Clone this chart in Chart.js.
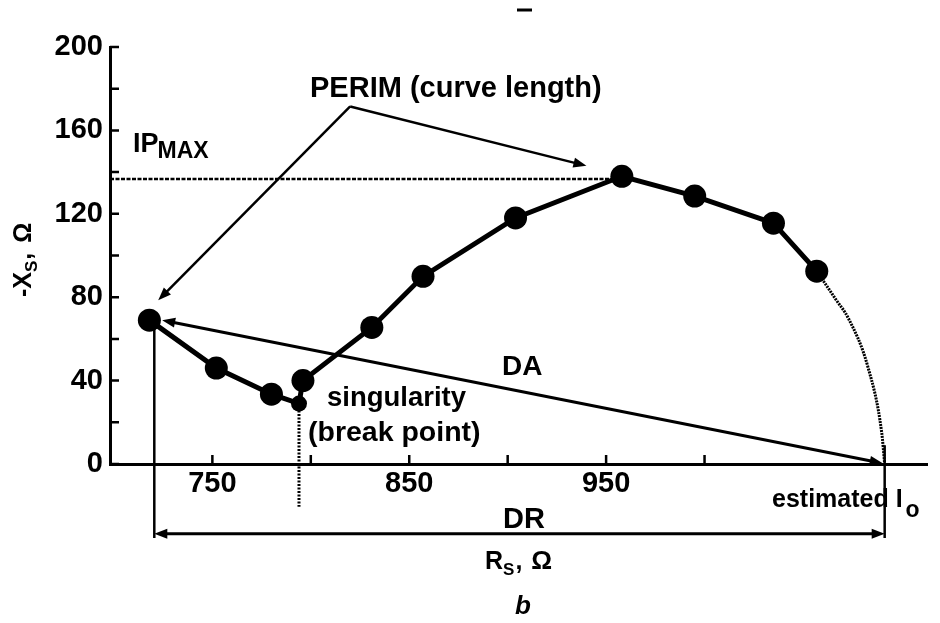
<!DOCTYPE html>
<html>
<head>
<meta charset="UTF-8">
<title>Rs / -Xs curve - break point</title>
<script src="https://cdn.jsdelivr.net/npm/chart.js@4.4.0/dist/chart.umd.min.js"></script>
<style>
  html, body { margin: 0; padding: 0; background: #fff; }
  #holder { width: 940px; height: 623px; }
</style>
</head>
<body>
<div id="holder"><canvas id="plot" width="940" height="623"></canvas></div>
<script>
// values (Rs in ohm, -Xs in ohm)
var rs = [718, 752, 780, 794, 796, 831, 857, 904, 958, 995, 1035, 1057];
var xs = [69, 46, 33.5, 29, 40, 65.5, 90, 118, 138, 128.5, 115.5, 92.5];
// dotted extrapolation down to the estimated Io
var arcRs = [1057, 1067, 1073, 1083, 1090, 1091.5];
var arcXs = [92.5, 78.5, 70, 46.5, 15, 0];
var ipMax = 136.7;
var breakRs = 794;
var breakXs = 29;
var estIo = 1091.5;
var xTicks = [750, 800, 850, 900, 950, 1000];
var xLabels = [750, 850, 950];
var yLabels = [0, 40, 80, 120, 160, 200];

var FONT = "'Liberation Sans', Arial, Helvetica, sans-serif";

function pts(a, b) {
    return a.map(function (v, i) { return { x: v, y: b[i] }; });
}

function P(chart, x, y) {
    return [chart.scales.x.getPixelForValue(x), chart.scales.y.getPixelForValue(y)];
}

function head(ctx, x0, y0, x1, y1, len, half) {
    var a = Math.atan2(y1 - y0, x1 - x0);
    var c = Math.cos(a), s = Math.sin(a);
    ctx.beginPath();
    ctx.moveTo(x1, y1);
    ctx.lineTo(x1 - len * c + half * s, y1 - len * s - half * c);
    ctx.lineTo(x1 - len * c - half * s, y1 - len * s + half * c);
    ctx.closePath();
    ctx.fill();
}

// line between two data points, arrow heads where asked
function arrow(chart, a, b, w, headA, headB) {
    var ctx = chart.ctx;
    var p = P(chart, a[0], a[1]), q = P(chart, b[0], b[1]);
    var ang = Math.atan2(q[1] - p[1], q[0] - p[0]);
    var sx = p[0], sy = p[1], ex = q[0], ey = q[1];
    if (headA) { sx += 8 * Math.cos(ang); sy += 8 * Math.sin(ang); }
    if (headB) { ex -= 8 * Math.cos(ang); ey -= 8 * Math.sin(ang); }
    ctx.lineWidth = w;
    ctx.beginPath();
    ctx.moveTo(sx, sy);
    ctx.lineTo(ex, ey);
    ctx.stroke();
    if (headA) head(ctx, q[0], q[1], p[0], p[1], 13, 5);
    if (headB) head(ctx, p[0], p[1], q[0], q[1], 13, 5);
}

function runs(ctx, x, y, parts) {
    parts.forEach(function (r) {
        x += (r.gap || 0);
        ctx.font = r.f;
        ctx.fillText(r.t, x, y + (r.dy || 0));
        x += ctx.measureText(r.t).width;
    });
}

function bold(n) { return 'bold ' + n + 'px ' + FONT; }

var extras = {
    id: 'extras',
    afterDraw: function (chart) {
        var ctx = chart.ctx, a = chart.chartArea;
        var sx = chart.scales.x, sy = chart.scales.y;
        ctx.save();
        ctx.strokeStyle = '#000';
        ctx.fillStyle = '#000';
        ctx.lineCap = 'butt';

        // inward tick marks
        ctx.lineWidth = 2.5;
        ctx.beginPath();
        sx.ticks.forEach(function (t) {
            var p = sx.getPixelForValue(t.value);
            ctx.moveTo(p, a.bottom); ctx.lineTo(p, a.bottom - 9);
        });
        sy.ticks.forEach(function (t) {
            var p = sy.getPixelForValue(t.value);
            ctx.moveTo(a.left, p); ctx.lineTo(a.left + 9, p);
        });
        ctx.stroke();

        // PERIM arrows
        arrow(chart, [820, 171.5], [722.5, 78.5], 2.5, false, true);
        arrow(chart, [820, 171.5], [940, 143], 2.5, false, true);
        // DA
        arrow(chart, [724.5, 69], [1090.5, 0.3], 3, true, true);
        // DR
        arrow(chart, [720.5, -33.5], [estIo, -33.5], 3, true, true);
        // verticals bounding DR
        ctx.lineWidth = 2.5;
        var v1 = P(chart, 720.5, 69), v2 = P(chart, 720.5, -35.5);
        ctx.beginPath(); ctx.moveTo(v1[0], v1[1]); ctx.lineTo(v2[0], v2[1]); ctx.stroke();
        var w1 = P(chart, estIo, 9), w2 = P(chart, estIo, -35.5);
        ctx.beginPath(); ctx.moveTo(w1[0], w1[1]); ctx.lineTo(w2[0], w2[1]); ctx.stroke();

        // stray mark at the top of the scan
        ctx.lineWidth = 3;
        ctx.beginPath(); ctx.moveTo(517, 10); ctx.lineTo(532, 10); ctx.stroke();

        // labels
        ctx.textAlign = 'left';
        ctx.textBaseline = 'alphabetic';
        ctx.font = bold(29);
        ctx.fillText('PERIM (curve length)', 310, 97);
        runs(ctx, 133, 152, [{ t: 'IP', f: bold(27) }, { t: 'MAX', f: bold(23), dy: 6, gap: -1 }]);
        ctx.font = bold(28);
        ctx.fillText('DA', 502, 375);
        ctx.font = bold(27.5);
        ctx.fillText('singularity', 327, 406);
        ctx.font = bold(28.5);
        ctx.fillText('(break point)', 308, 441);
        ctx.font = bold(29);
        ctx.fillText('DR', 503, 528);
        runs(ctx, 772, 507, [{ t: 'estimated I', f: bold(25) }, { t: 'o', f: bold(23), dy: 10, gap: 3 }]);

        // x axis title
        runs(ctx, 485, 569, [
            { t: 'R', f: bold(25) },
            { t: 'S', f: bold(17), dy: 6 },
            { t: ',', f: bold(25), gap: 1 },
            { t: '\u03A9', f: bold(26), gap: 9 }
        ]);
        ctx.font = 'italic bold 26px ' + FONT;
        ctx.fillText('b', 515, 614);

        // y axis title, rotated
        ctx.save();
        ctx.translate(31, 297);
        ctx.rotate(-Math.PI / 2);
        runs(ctx, 0, 0, [
            { t: '-X', f: bold(25) },
            { t: 'S', f: bold(17), dy: 6 },
            { t: ',', f: bold(25), gap: 1 },
            { t: '\u03A9', f: bold(25), gap: 10 }
        ]);
        ctx.restore();

        ctx.restore();
    }
};

var config = {
    type: 'scatter',
    data: {
        datasets: [
            {
                // IPmax level
                data: [{ x: 698, y: ipMax }, { x: 955, y: ipMax }],
                showLine: true,
                borderColor: '#000',
                borderWidth: 2.5,
                borderDash: [4, 1.5],
                pointRadius: 0
            },
            {
                // break point drop line
                data: [{ x: breakRs, y: breakXs }, { x: breakRs, y: -20.5 }],
                showLine: true,
                borderColor: '#000',
                borderWidth: 3,
                borderDash: [2, 1.5],
                pointRadius: 0,
                clip: false
            },
            {
                data: pts(arcRs, arcXs),
                showLine: true,
                borderColor: '#000',
                borderWidth: 3,
                borderDash: [2, 1],
                cubicInterpolationMode: 'monotone',
                pointRadius: 0
            },
            {
                data: pts(rs, xs),
                showLine: true,
                borderColor: '#000',
                borderWidth: 5,
                backgroundColor: '#000',
                pointBackgroundColor: '#000',
                pointBorderWidth: 0,
                pointRadius: rs.map(function (v, i) { return i === 3 ? 8 : 11.5; })
            }
        ]
    },
    options: {
        responsive: false,
        animation: false,
        events: [],
        layout: { autoPadding: false, padding: { top: 47, right: 13, left: 0, bottom: 0 } },
        plugins: { legend: { display: false }, tooltip: { enabled: false } },
        scales: {
            x: {
                type: 'linear',
                min: 698,
                max: 1113,
                afterBuildTicks: function (s) {
                    s.ticks = xTicks.map(function (v) { return { value: v }; });
                },
                afterFit: function (s) { s.height = 159; },
                grid: { display: true, drawOnChartArea: false, drawTicks: false },
                border: { display: true, color: '#000', width: 3 },
                ticks: {
                    color: '#000',
                    padding: 3,
                    maxRotation: 0,
                    autoSkip: false,
                    font: { family: FONT, size: 29, weight: 'bold' },
                    callback: function (v) { return xLabels.indexOf(v) >= 0 ? String(v) : ''; }
                }
            },
            y: {
                min: 0,
                max: 200,
                afterFit: function (s) { s.width = 110; },
                grid: { display: true, drawOnChartArea: false, drawTicks: false },
                border: { display: true, color: '#000', width: 3 },
                ticks: {
                    stepSize: 20,
                    color: '#000',
                    padding: 7,
                    font: { family: FONT, size: 29, weight: 'bold' },
                    callback: function (v) { return yLabels.indexOf(v) >= 0 ? String(v) : ''; }
                }
            }
        }
    },
    plugins: [extras]
};

var ctx = document.getElementById('plot').getContext('2d');
window.myPlot = new Chart(ctx, config);
</script>
</body>
</html>
